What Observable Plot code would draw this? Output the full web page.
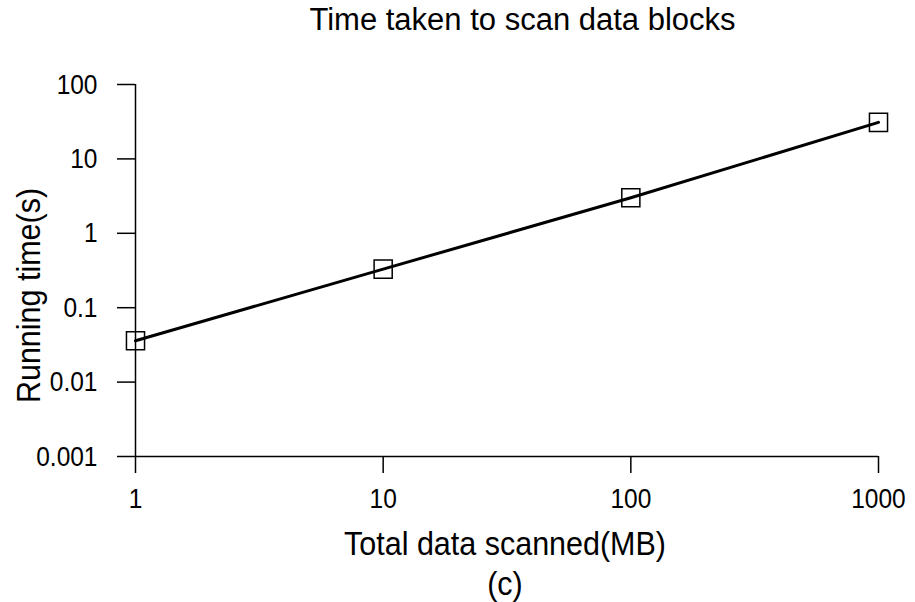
<!DOCTYPE html>
<html>
<head>
<meta charset="utf-8">
<script src="https://cdn.jsdelivr.net/npm/d3@7"></script>
<script src="https://cdn.jsdelivr.net/npm/@observablehq/plot@0.6"></script>
<style>
  html, body { margin: 0; padding: 0; background: #fff; }
  #wrap { position: relative; width: 915px; height: 602px; font-family: "Liberation Sans", Arial, Helvetica, sans-serif; }
  #title { position: absolute; left: 130px; width: 785px; top: 5px; text-align: center; font-size: 31px; line-height: 30px; color: #000; }
  #chart { position: absolute; left: 0; top: 0; }
</style>
</head>
<body>
<div id="wrap">
  <div id="chart"></div>
  <div id="title">Time taken to scan data blocks</div>
</div>
<script>
// Scan size (MB) and measured running time (s)
const sizesMB = [1, 10, 100, 1000];
const runningTimes = [0.036, 0.33, 3.0, 31];
const xTicks = [1, 10, 100, 1000];
const yTicks = [0.001, 0.01, 0.1, 1, 10, 100];
const xLabel = "Total data scanned(MB)";
const yLabel = "Running time(s)";
const panelLabel = "(c)";

const rows = sizesMB.map((s, i) => ({size: s, time: runningTimes[i]}));

const chart = Plot.plot({
  width: 915,
  height: 602,
  marginLeft: 135,
  marginRight: 37,
  marginTop: 84,
  marginBottom: 146,
  style: {fontFamily: "Liberation Sans, Arial, Helvetica, sans-serif", background: "#fff", color: "#000", overflow: "visible"},
  x: {type: "log", domain: [1, 1000]},
  y: {type: "log", domain: [0.001, 100]},
  marks: [
    Plot.axisY({ticks: yTicks, tickFormat: d => String(d), tickSize: 18, tickPadding: 20, fontSize: 24.5, label: null, strokeWidth: 1.5, className: "tall-ticks"}),
    Plot.axisX({ticks: xTicks, tickFormat: d => String(d), tickSize: 17, tickPadding: 16, fontSize: 24.5, label: null, strokeWidth: 1.5, className: "tall-ticks"}),
    Plot.ruleX([1], {y1: 0.001, y2: 100, stroke: "#000", strokeWidth: 1.5}),
    Plot.ruleY([0.001], {x1: 1, x2: 1000, stroke: "#000", strokeWidth: 1.5}),
    Plot.line(rows, {x: "size", y: "time", stroke: "#000", strokeWidth: 3}),
    Plot.dot(rows, {x: "size", y: "time", symbol: "square", r: 10.2, stroke: "#000", strokeWidth: 1.5, fill: "none"}),
    Plot.text([yLabel], {text: d => d, frameAnchor: "left", dx: -106, dy: 25, rotate: -90, fontSize: 30.5, textAnchor: "middle", lineAnchor: "middle", className: "tall-label-y"}),
    Plot.text([xLabel], {text: d => d, frameAnchor: "bottom", dx: -2, dy: 88, fontSize: 30.5, textAnchor: "middle", lineAnchor: "middle", className: "tall-labels"}),
    Plot.text([panelLabel], {text: d => d, frameAnchor: "bottom", dx: -2, dy: 128, fontSize: 30.5, textAnchor: "middle", lineAnchor: "middle", className: "tall-labels"})
  ]
});
document.getElementById("chart").appendChild(chart);

// The lettering is a little taller than the font's natural proportions:
// stretch each label about its own centre along its vertical reading axis.
function stretch(selector, k, horizontal) {
  d3.select(chart).selectAll(selector).each(function() {
    const b = this.getBBox();
    const prev = this.getAttribute("transform") || "";
    let t;
    if (horizontal) {
      const cx = b.x + b.width / 2;
      t = `translate(${cx},0) scale(${k},1) translate(${-cx},0)`;
    } else {
      const cy = b.y + b.height / 2;
      t = `translate(0,${cy}) scale(1,${k}) translate(0,${-cy})`;
    }
    this.setAttribute("transform", (prev + " " + t).trim());
  });
}
stretch(".tall-ticks text", 1.14, false);
stretch(".tall-labels text", 1.1, false);
// The y label is rotated, so its glyph height runs along local y after rotation as well.
stretch(".tall-label-y text", 1.1, false);
</script>
</body>
</html>
